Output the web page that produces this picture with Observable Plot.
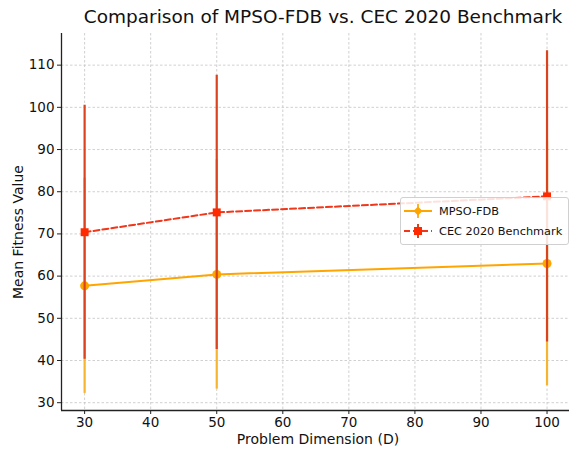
<!DOCTYPE html>
<html><head><meta charset="utf-8">
<script src="https://cdn.jsdelivr.net/npm/d3@7"></script>
<script src="https://cdn.jsdelivr.net/npm/@observablehq/plot@0.6"></script>
<style>
body{margin:0;background:#fff;font-family:"DejaVu Sans",sans-serif;}
#wrap{position:relative;width:569px;height:455px;overflow:hidden;}
#chart{position:absolute;left:0;top:0;}
#title{position:absolute;top:6px;left:323px;transform:translateX(-50%);font-size:18.5px;white-space:nowrap;color:#111;}
#xlabel{position:absolute;top:431px;left:318px;transform:translateX(-50%);font-size:14px;white-space:nowrap;color:#111;}
#ylabel{position:absolute;left:18px;top:232px;transform:translate(-50%,-50%) rotate(-90deg);font-size:14px;white-space:nowrap;color:#111;}
#legend{position:absolute;left:400px;top:197px;width:167px;height:46px;border:1px solid #d0d0d0;border-radius:3px;background:rgba(255,255,255,0.85);font-size:11.3px;color:#111;}
#legend .row{position:absolute;left:2px;height:20px;display:flex;align-items:center;white-space:nowrap;}
#legend svg{margin-right:6px;}
</style></head><body>
<div id="wrap">
<div id="chart"></div>
<div id="title">Comparison of MPSO-FDB vs. CEC 2020 Benchmark</div>
<div id="xlabel">Problem Dimension (D)</div>
<div id="ylabel">Mean Fitness Value</div>
<div id="legend"></div>
</div>
<script>
const dimensions = [30, 50, 100];
const mpsoMean = [57.7, 60.4, 63.0];
const mpsoStd = [25.5, 27.2, 29.0];
const cecMean = [70.4, 75.1, 78.9];
const cecStd = [30.1, 32.5, 34.5];
const seriesNames = ["MPSO-FDB", "CEC 2020 Benchmark"];
const xTicks = [30, 40, 50, 60, 70, 80, 90, 100];
const yTicks = [30, 40, 50, 60, 70, 80, 90, 100, 110];

const ORANGE = "#FFA500", ORANGE_ERR = "#F6B430";
const RED = "#F2361A", RED_ERR = "#D9441E", RED_MK = "#FF2A00";

const mpso = dimensions.map((d, i) => ({d, m: mpsoMean[i], lo: mpsoMean[i] - mpsoStd[i], hi: mpsoMean[i] + mpsoStd[i]}));
const cec = dimensions.map((d, i) => ({d, m: cecMean[i], lo: cecMean[i] - cecStd[i], hi: cecMean[i] + cecStd[i]}));

const xDom = [26.5, 103.4];
const yDom = [28.15, 117.5];

const chart = Plot.plot({
  width: 569, height: 455,
  marginLeft: 61, marginRight: 0, marginTop: 33, marginBottom: 45,
  style: {fontFamily: "DejaVu Sans, sans-serif", fontSize: "13.5px", color: "#111", background: "white"},
  x: {domain: xDom, label: null},
  y: {domain: yDom, label: null},
  marks: [
    Plot.gridX(xTicks, {stroke: "#c4c4c4", strokeOpacity: 1, strokeDasharray: "2.5,2", strokeWidth: 0.8}),
    Plot.gridY(yTicks, {stroke: "#c4c4c4", strokeOpacity: 1, strokeDasharray: "2.5,2", strokeWidth: 0.8}),
    Plot.axisX(xTicks, {tickSize: 4, tickPadding: 3, label: null, stroke: "#222"}),
    Plot.axisY(yTicks, {tickSize: 4, tickPadding: 3, label: null, stroke: "#222"}),
    Plot.ruleX([xDom[0]], {stroke: "#222", strokeWidth: 1.3}),
    Plot.ruleY([yDom[0]], {stroke: "#222", strokeWidth: 1.3}),
    Plot.ruleX(mpso, {x: "d", y1: "lo", y2: "hi", stroke: ORANGE_ERR, strokeWidth: 2.2}),
    Plot.line(mpso, {x: "d", y: "m", stroke: ORANGE, strokeWidth: 2}),
    Plot.dot(mpso, {x: "d", y: "m", r: 4.5, fill: ORANGE, stroke: null}),
    Plot.ruleX(cec, {x: "d", y1: "lo", y2: "hi", stroke: RED_ERR, strokeWidth: 2.2}),
    Plot.line(cec, {x: "d", y: "m", stroke: RED, strokeWidth: 2, strokeDasharray: "6,3"}),
    Plot.dot(cec, {x: "d", y: "m", r: 4.5, symbol: "square", fill: RED_MK, stroke: null})
  ]
});
document.getElementById("chart").appendChild(chart);

const leg = document.getElementById("legend");
leg.innerHTML = `
<div class="row" style="top:3px"><svg width="30" height="20"><line x1="1" y1="10" x2="29" y2="10" stroke="${ORANGE}" stroke-width="2"/><line x1="15" y1="3" x2="15" y2="17" stroke="${ORANGE_ERR}" stroke-width="2"/><path d="M15 5.5 L19.5 10 L15 14.5 L10.5 10 Z" fill="${ORANGE}"/></svg>${seriesNames[0]}</div>
<div class="row" style="top:23px"><svg width="30" height="20"><line x1="1" y1="10" x2="29" y2="10" stroke="${RED}" stroke-width="2" stroke-dasharray="6,3"/><line x1="15" y1="3" x2="15" y2="17" stroke="${RED_ERR}" stroke-width="2"/><rect x="11" y="6" width="8" height="8" fill="${RED_MK}"/></svg>${seriesNames[1]}</div>`;
</script>
</body></html>
